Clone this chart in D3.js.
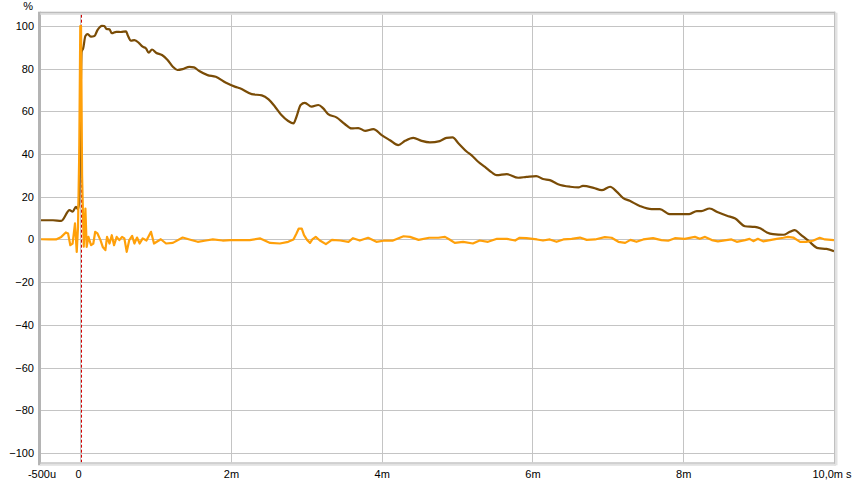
<!DOCTYPE html>
<html>
<head>
<meta charset="utf-8">
<script src="https://cdn.jsdelivr.net/npm/d3@7"></script>
<style>
  html, body { margin: 0; padding: 0; background: #fff; }
  svg { display: block; }
  text { font-family: "Liberation Sans", Arial, sans-serif; font-size: 11px; fill: #000; }
</style>
</head>
<body>
<svg id="chart" width="854" height="485"></svg>
<script>
// ---- data (time in ms, value in %) ----
const brownT = [-0.52,-0.36,-0.25,-0.14,-0.1,-0.055,-0.03,-0.015,0.02,0.04,0.07,0.1,0.145,0.19,0.23,0.29,0.32,0.35,0.39,0.42,0.48,0.54,0.61,0.63,0.675,0.72,0.785,0.83,0.874,0.91,0.953,1.007,1.086,1.16,1.23,1.29,1.36,1.45,1.51,1.58,1.69,1.8,1.935,2.06,2.12,2.276,2.41,2.5,2.585,2.67,2.76,2.83,2.87,2.925,2.98,3.07,3.16,3.225,3.29,3.4,3.51,3.6,3.69,3.78,3.89,4.0,4.11,4.22,4.31,4.42,4.53,4.64,4.77,4.86,4.94,5.02,5.13,5.19,5.28,5.37,5.46,5.525,5.66,5.81,5.92,6.05,6.14,6.23,6.34,6.5,6.61,6.67,6.81,6.92,7.03,7.12,7.2,7.29,7.43,7.58,7.69,7.82,7.95,8.08,8.18,8.24,8.35,8.46,8.58,8.69,8.82,8.95,9.02,9.11,9.19,9.33,9.415,9.48,9.55,9.66,9.79,9.9,10.0];
const brownV = [9.0,9.0,8.7,13.7,13.0,15.3,14.2,16.5,88.0,89.5,95.3,96.2,95.0,95.3,98.1,100.1,100.0,98.6,98.4,96.6,97.3,97.2,97.5,95.8,93.1,93.4,91.9,90.3,89.5,87.5,89.0,87.5,86.4,84.1,80.9,79.4,79.8,80.9,80.6,78.9,77.0,76.2,73.4,71.5,70.8,68.1,67.5,65.6,62.2,58.3,55.5,54.4,57.5,63.0,64.0,62.2,63.0,61.4,58.7,57.2,54.1,52.0,52.2,50.9,51.7,48.9,46.5,44.2,46.2,47.6,46.2,45.5,46.1,47.6,47.8,45.0,41.1,39.5,36.4,34.0,31.4,30.1,30.6,28.9,29.3,29.7,28.3,27.8,25.9,24.7,24.4,25.1,24.2,23.1,24.7,22.3,19.5,18.1,15.6,14.2,14.2,11.9,11.9,11.9,13.3,13.3,14.5,12.7,11.1,9.8,6.2,5.9,5.2,3.3,2.5,2.2,3.6,4.4,2.5,-0.6,-4.1,-4.4,-5.5];

const orangeT = [-0.52,-0.41,-0.32,-0.25,-0.19,-0.16,-0.13,-0.1,-0.068,-0.045,-0.028,-0.012,0.002,0.012,0.026,0.048,0.07,0.087,0.11,0.145,0.175,0.2,0.23,0.27,0.3,0.335,0.357,0.39,0.42,0.45,0.485,0.52,0.556,0.587,0.618,0.652,0.69,0.72,0.755,0.79,0.83,0.88,0.94,0.98,1.07,1.14,1.23,1.36,1.45,1.56,1.67,1.76,1.89,1.99,2.12,2.25,2.39,2.52,2.65,2.76,2.83,2.87,2.9,2.94,2.97,3.01,3.05,3.08,3.125,3.18,3.26,3.34,3.45,3.56,3.62,3.71,3.82,3.93,4.04,4.15,4.29,4.375,4.49,4.63,4.75,4.84,4.9,4.97,5.08,5.21,5.3,5.41,5.53,5.66,5.77,5.83,5.92,6.06,6.14,6.23,6.32,6.41,6.52,6.63,6.72,6.83,6.96,7.05,7.14,7.23,7.3,7.38,7.47,7.6,7.71,7.8,7.89,8.02,8.155,8.22,8.29,8.38,8.46,8.57,8.64,8.71,8.82,8.88,8.93,8.99,9.06,9.15,9.24,9.33,9.39,9.46,9.55,9.63,9.72,9.81,9.88,10.0];
const orangeV = [0.1,0.0,0.0,1.2,3.3,2.8,-2.7,-1.9,7.5,-5.8,5.9,40,100,100,30,-3.4,14.5,-3.5,1.2,-2.7,-1.9,3.6,2.8,-0.3,-3.5,-5.0,1.2,-1.9,2.0,-2.7,1.2,-0.3,1.2,0.5,-5.8,-0.3,1.7,-1.9,0.9,-1.9,0.5,-0.5,3.6,-1.9,0.1,-1.9,-1.6,0.9,0.0,-1.1,-0.5,0.0,-0.5,-0.3,-0.3,-0.3,0.5,-1.6,-1.9,-1.1,0.0,2.8,5.1,5.1,2.0,-0.2,-1.6,0.0,1.2,-0.5,-2.2,-0.2,-0.5,-1.1,0.6,-0.5,0.8,-1.1,-0.5,-0.5,1.5,1.2,-0.2,0.8,0.8,1.2,0.0,-1.6,-1.1,-1.9,-0.5,-1.1,0.3,0.3,-0.5,0.8,0.6,0.0,-0.5,0.0,-1.1,0.0,0.3,0.9,-0.2,0.0,1.1,0.8,-1.1,-1.6,-0.2,-1.1,0.0,0.6,-0.3,-0.6,0.6,0.3,1.2,0.3,1.2,-0.3,-0.9,-0.3,0.0,-1.1,-0.3,0.3,-0.8,0.3,-0.9,-0.3,0.3,0.8,1.2,0.9,-1.1,-1.1,-0.6,0.8,0.0,-0.3];

const yTicks = [-100,-80,-60,-40,-20,0,20,40,60,80,100];
const xTicks = [-0.5,0,2,4,6,8,10];
const xTickLabels = ["-500u","0","2m","4m","6m","8m","10,0m s"];
const cursorT = 0.016;

// ---- layout ----
const svg = d3.select("#chart");
const L = 41, R = 834, T = 14.7, B = 462.3;
const x = d3.scaleLinear().domain([-0.519, 10]).range([L, R]);
const y = d3.scaleLinear().domain([-104.4, 105.3]).range([B, T]);

svg.append("rect").attr("x", L).attr("y", T).attr("width", R - L).attr("height", B - T).attr("fill", "#fff");

// grid
const grid = svg.append("g");
grid.selectAll("line.h").data(yTicks).join("line")
  .attr("x1", L).attr("x2", R)
  .attr("y1", d => Math.round(y(d)) + 0.5).attr("y2", d => Math.round(y(d)) + 0.5)
  .attr("stroke", "#c4c4c4").attr("stroke-width", 1);
grid.selectAll("line.v").data(xTicks.filter(d => d >= 0 && d < 10)).join("line")
  .attr("y1", T).attr("y2", B)
  .attr("x1", d => Math.round(x(d)) + 0.5).attr("x2", d => Math.round(x(d)) + 0.5)
  .attr("stroke", "#c4c4c4").attr("stroke-width", 1);

// cursor line
svg.append("line")
  .attr("x1", Math.round(x(cursorT)) + 0.5).attr("x2", Math.round(x(cursorT)) + 0.5)
  .attr("y1", T).attr("y2", B)
  .attr("stroke", "#d40000").attr("stroke-width", 1).attr("stroke-dasharray", "3,2");

// curves
svg.append("clipPath").attr("id", "clip").append("rect")
  .attr("x", L).attr("y", T).attr("width", R - L).attr("height", B - T);
const lineSmooth = d3.line().x(d => x(d[0])).y(d => y(d[1])).curve(d3.curveMonotoneX);
const lineLin = d3.line().x(d => x(d[0])).y(d => y(d[1]));
const plot = svg.append("g").attr("clip-path", "url(#clip)");
plot.append("path").datum(brownT.map((t, i) => [t, brownV[i]]))
  .attr("d", lineSmooth).attr("fill", "none").attr("stroke", "#7a4c06").attr("stroke-width", 2.2)
  .attr("stroke-linejoin", "round");
plot.append("path").datum(orangeT.map((t, i) => [t, orangeV[i]]))
  .attr("d", lineLin).attr("fill", "none").attr("stroke", "#ffa00a").attr("stroke-width", 2.2)
  .attr("stroke-linejoin", "round");

// frame borders (3D look)
const fr = svg.append("g");
fr.append("rect").attr("x", L - 3).attr("y", T - 3).attr("width", 3).attr("height", B - T + 6).attr("fill", "#b4b4b4");
fr.append("rect").attr("x", L - 1).attr("y", T - 3).attr("width", R - L + 2).attr("height", 1.5).attr("fill", "#bcbcbc");
fr.append("rect").attr("x", L - 1).attr("y", T - 1.5).attr("width", R - L + 2).attr("height", 1.5).attr("fill", "#d6d6d6");
fr.append("rect").attr("x", R).attr("y", T - 3).attr("width", 1.5).attr("height", B - T + 6).attr("fill", "#c0c0c0");
fr.append("rect").attr("x", R + 1.5).attr("y", T - 2).attr("width", 2).attr("height", B - T + 5).attr("fill", "#e2e2e2");
fr.append("rect").attr("x", L - 1).attr("y", B).attr("width", R - L + 2).attr("height", 1.5).attr("fill", "#c0c0c0");
fr.append("rect").attr("x", L - 1).attr("y", B + 1.5).attr("width", R - L + 3).attr("height", 2).attr("fill", "#e2e2e2");

// y axis labels
const yAxis = d3.axisLeft(y).tickValues(yTicks).tickSize(0).tickPadding(0);
const gy = svg.append("g").attr("transform", `translate(${L - 7},0)`).call(yAxis);
gy.select(".domain").remove();
gy.selectAll("text").attr("font-size", 11).attr("font-family", "Liberation Sans, Arial, sans-serif").attr("fill", "#000");

svg.append("text").attr("x", 33).attr("y", 10).attr("text-anchor", "end").text("%");

// x axis labels
const xAxis = d3.axisBottom(x).tickValues(xTicks).tickSize(0).tickPadding(0)
  .tickFormat((d, i) => xTickLabels[i]);
const gx = svg.append("g").attr("transform", `translate(0,${B + 8})`).call(xAxis);
gx.select(".domain").remove();
gx.selectAll("text").attr("font-size", 11).attr("font-family", "Liberation Sans, Arial, sans-serif").attr("fill", "#000");
gx.selectAll(".tick").filter((d, i) => i === 0).attr("transform", "translate(42,0)");
gx.selectAll(".tick").filter((d, i) => i === 1).attr("transform", "translate(78.5,0)");
gx.selectAll(".tick").filter((d, i) => i === xTicks.length - 1).attr("transform", "translate(832,0)");
</script>
</body>
</html>
